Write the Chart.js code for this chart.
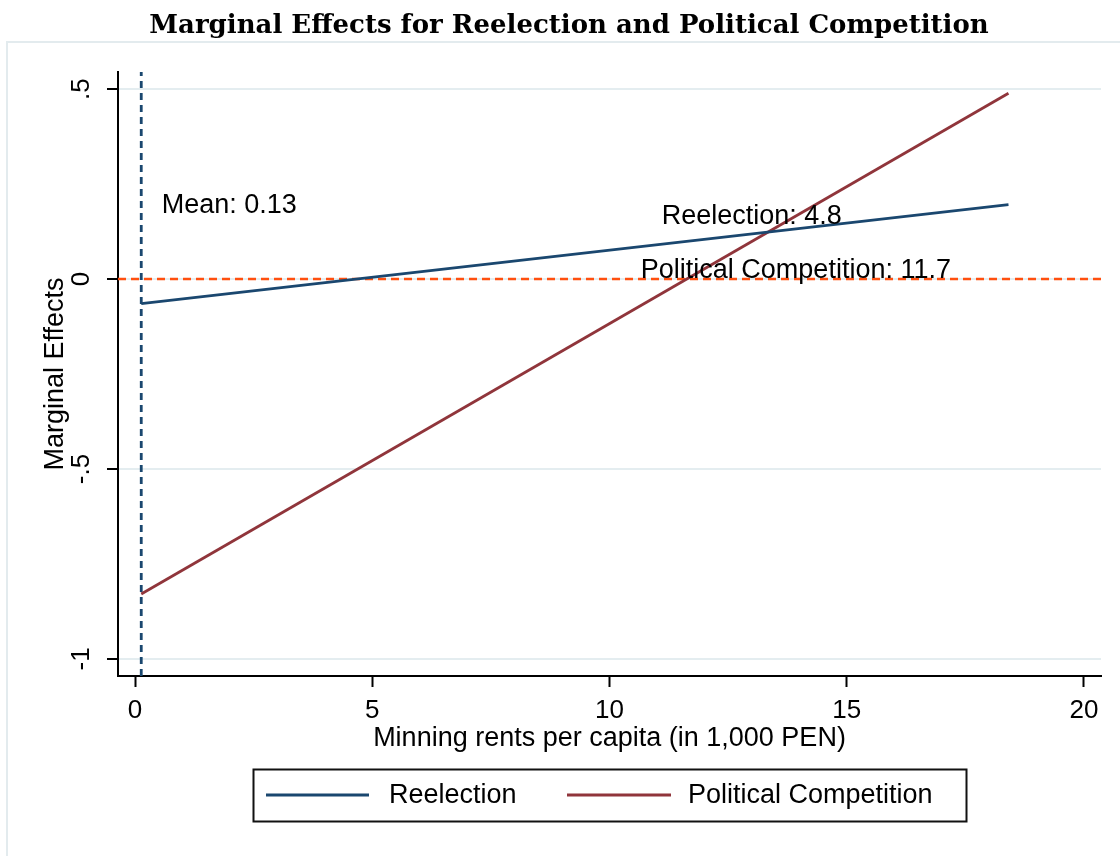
<!DOCTYPE html>
<html>
<head>
<meta charset="utf-8">
<script src="https://cdn.jsdelivr.net/npm/chart.js@4.4.1/dist/chart.umd.min.js"></script>
<style>
  html, body { margin: 0; padding: 0; background: #ffffff; }
  #wrap { width: 1120px; height: 856px; }
</style>
</head>
<body>
<div id="wrap"><canvas id="chart" width="1120" height="856"></canvas></div>
<script>
// Mining rents per capita (thousand PEN) at which the effects are evaluated
const rentsX = [0.13, 18.41];
// Marginal effect of reelection
const reelectionME = [-0.065, 0.196];
// Marginal effect of political competition
const competitionME = [-0.829, 0.489];
// Sample mean of mining rents per capita
const meanRents = 0.13;

const chartTitle = 'Marginal Effects for Reelection and Political Competition';
const seriesNames = ['Reelection', 'Political Competition'];
const xTicks = [0, 5, 10, 15, 20];
const yTicks = [-1, -0.5, 0, 0.5];
const yTickLabels = ['-1', '-.5', '0', '.5'];
const xRange = [-0.36, 20.36];
const yRange = [-1.045, 0.545];

// Text notes anchored in data units (left edge, baseline)
const noteTexts = ['Mean: 0.13', 'Reelection: 4.8', 'Political Competition: 11.7'];
const noteX = [0.563, 11.10, 10.66];
const noteY = [0.174, 0.144, 0.003];

const SANS = '"Liberation Sans", Arial, sans-serif';
const NAVY = '#1a476f';
const MAROON = '#90353b';

const toPoints = (xs, ys) => xs.map((x, i) => ({ x: x, y: ys[i] }));

// White background, light outer frame of the graph region and the heading
const framePlugin = {
  id: 'frame',
  beforeDraw(chart) {
    const ctx = chart.ctx;
    ctx.save();
    ctx.fillStyle = '#ffffff';
    ctx.fillRect(0, 0, chart.width, chart.height);
    ctx.strokeStyle = '#e3ebee';
    ctx.lineWidth = 2;
    ctx.beginPath();
    ctx.moveTo(7, chart.height);
    ctx.lineTo(7, 42);
    ctx.lineTo(chart.width, 42);
    ctx.stroke();
    ctx.fillStyle = '#000000';
    ctx.font = 'bold 26px "DejaVu Serif", serif';
    ctx.textAlign = 'center';
    ctx.textBaseline = 'middle';
    ctx.fillText(chartTitle, 569, 26);
    ctx.restore();
  }
};

// Notes placed through the chart scales
const notesPlugin = {
  id: 'notes',
  afterDatasetsDraw(chart) {
    const ctx = chart.ctx;
    const xs = chart.scales.x, ys = chart.scales.y;
    ctx.save();
    ctx.font = '27px ' + SANS;
    ctx.fillStyle = '#000000';
    ctx.textAlign = 'left';
    ctx.textBaseline = 'alphabetic';
    noteTexts.forEach((t, i) => {
      ctx.fillText(t, xs.getPixelForValue(noteX[i]), ys.getPixelForValue(noteY[i]));
    });
    ctx.restore();
  }
};

// Boxed legend below the axis title
const legendBoxPlugin = {
  id: 'legendBox',
  afterDraw(chart) {
    const ctx = chart.ctx;
    const box = { x: 253, y: 769, w: 713, h: 52 };
    const cy = box.y + box.h / 2;
    const items = [
      { lineFrom: 266, lineTo: 369, textX: 389 },
      { lineFrom: 567, lineTo: 671, textX: 688 }
    ];
    ctx.save();
    ctx.strokeStyle = '#111111';
    ctx.lineWidth = 2;
    ctx.strokeRect(box.x + 0.5, box.y + 0.5, box.w, box.h);
    ctx.font = '27px ' + SANS;
    ctx.textBaseline = 'middle';
    ctx.textAlign = 'left';
    items.forEach((it, i) => {
      ctx.strokeStyle = chart.data.datasets[i].borderColor;
      ctx.lineWidth = 2.8;
      ctx.beginPath();
      ctx.moveTo(it.lineFrom, cy);
      ctx.lineTo(it.lineTo, cy);
      ctx.stroke();
      ctx.fillStyle = '#000000';
      ctx.fillText(seriesNames[i], it.textX, cy + 1);
    });
    ctx.restore();
  }
};

new Chart(document.getElementById('chart'), {
  type: 'line',
  data: {
    datasets: [
      {
        label: seriesNames[0],
        data: toPoints(rentsX, reelectionME),
        borderColor: NAVY,
        borderWidth: 2.8,
        pointRadius: 0,
        fill: false,
        order: 1
      },
      {
        label: seriesNames[1],
        data: toPoints(rentsX, competitionME),
        borderColor: MAROON,
        borderWidth: 2.8,
        pointRadius: 0,
        fill: false,
        order: 1
      },
      {
        label: 'zero',
        data: [{ x: xRange[0], y: 0 }, { x: xRange[1], y: 0 }],
        borderColor: '#ff4f0f',
        borderWidth: 2.6,
        borderDash: [8, 5],
        pointRadius: 0,
        fill: false,
        order: 3
      },
      {
        label: 'mean',
        data: [{ x: meanRents, y: yRange[0] }, { x: meanRents, y: yRange[1] }],
        borderColor: NAVY,
        borderWidth: 2.8,
        borderDash: [7, 5],
        pointRadius: 0,
        fill: false,
        order: 2
      }
    ]
  },
  options: {
    responsive: false,
    animation: false,
    devicePixelRatio: 1,
    layout: { padding: { top: 72, right: 19, bottom: 100, left: 0 } },
    plugins: {
      legend: { display: false },
      tooltip: { enabled: false },
      title: { display: false }
    },
    scales: {
      x: {
        type: 'linear',
        min: xRange[0],
        max: xRange[1],
        afterBuildTicks: (s) => { s.ticks = xTicks.map(v => ({ value: v })); },
        afterFit: (s) => { s.height = 80; },
        ticks: {
          color: '#000000',
          font: { family: SANS, size: 26 },
          padding: 8,
          maxRotation: 0,
          autoSkip: false,
          callback: (v) => String(v)
        },
        grid: { drawOnChartArea: false, tickLength: 11, tickColor: '#000000', tickWidth: 2 },
        border: { color: '#000000', width: 2 },
        title: {
          display: true,
          text: 'Minning rents per capita (in 1,000 PEN)',
          color: '#000000',
          font: { family: SANS, size: 27, lineHeight: 1.2 },
          padding: { top: 0, bottom: 1 }
        }
      },
      y: {
        type: 'linear',
        min: yRange[0],
        max: yRange[1],
        afterBuildTicks: (s) => { s.ticks = yTicks.map(v => ({ value: v })); },
        afterFit: (s) => { s.width = 118; },
        ticks: {
          color: '#000000',
          font: { family: SANS, size: 26 },
          minRotation: 90,
          maxRotation: 90,
          crossAlign: 'center',
          padding: 10,
          autoSkip: false,
          callback: (v) => yTickLabels[yTicks.indexOf(v)]
        },
        grid: { color: '#e4edf0', lineWidth: 2, tickLength: 11, tickColor: '#000000', tickWidth: 2 },
        border: { color: '#000000', width: 2 },
        title: {
          display: true,
          text: 'Marginal Effects',
          color: '#000000',
          font: { family: SANS, size: 27, lineHeight: 1.2 },
          padding: { top: 39, bottom: 0 }
        }
      }
    }
  },
  plugins: [framePlugin, notesPlugin, legendBoxPlugin]
});
</script>
</body>
</html>
